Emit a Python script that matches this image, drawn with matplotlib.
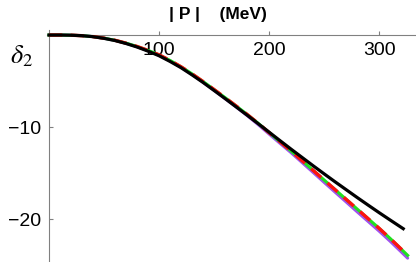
import matplotlib
matplotlib.use("Agg")
import matplotlib.pyplot as plt

plt.rcParams['font.family'] = ['Liberation Sans', 'DejaVu Sans']
plt.rcParams['mathtext.fontset'] = 'stix'

# |P| in MeV
p_full = [0, 10, 20, 30, 40, 50, 60, 70, 80, 90, 100, 110, 120, 130, 140, 150, 160,
          170, 180, 190, 200, 210, 220, 230, 240, 250, 260, 270, 280, 290, 300, 310, 322]
delta_full = [0, 0.0, -0.02, -0.07, -0.18, -0.36, -0.6, -0.92, -1.3, -1.75, -2.25,
              -2.87, -3.55, -4.33, -5.15, -6.02, -6.9, -7.8, -8.7, -9.62, -10.55,
              -11.48, -12.4, -13.3, -14.2, -15.08, -15.95, -16.8, -17.65, -18.48,
              -19.3, -20.1, -21.05]

p_app = [0, 10, 20, 30, 40, 50, 60, 70, 80, 90, 100, 110, 120, 130, 140, 150, 160,
         170, 180, 190, 200, 210, 220, 230, 240, 250, 260, 270, 280, 290, 300, 310,
         320, 326]
delta_red = [0, 0.0, -0.02, -0.07, -0.17, -0.34, -0.57, -0.88, -1.24, -1.67, -2.15,
             -2.76, -3.45, -4.22, -5.05, -5.92, -6.8, -7.7, -8.62, -9.58, -10.6,
             -11.6, -12.6, -13.65, -14.7, -15.75, -16.8, -17.85, -18.9, -19.95,
             -21.0, -22.1, -23.25, -23.95]
delta_green = [0, 0.0, -0.02, -0.07, -0.17, -0.34, -0.57, -0.88, -1.24, -1.67, -2.15,
               -2.76, -3.45, -4.22, -5.05, -5.92, -6.8, -7.7, -8.62, -9.58, -10.6,
               -11.6, -12.6, -13.65, -14.7, -15.75, -16.8, -17.85, -18.9, -19.95,
               -21.0, -22.1, -23.25, -23.95]
delta_purple = [0, 0.0, -0.02, -0.07, -0.17, -0.35, -0.58, -0.9, -1.27, -1.7, -2.19,
                -2.8, -3.5, -4.28, -5.12, -6.0, -6.9, -7.8, -8.74, -9.72, -10.75,
                -11.77, -12.78, -13.85, -14.92, -16.0, -17.07, -18.13, -19.2, -20.25,
                -21.3, -22.4, -23.55, -24.25]

fig = plt.figure(figsize=(4.16, 2.62), dpi=100)
W, H = 416, 262
xmin, xmax = -2, 333.6
ymin, ymax = -24.67, 0.5
left = 49 - 2 * 1.1
ax = fig.add_axes([left / W, 0, (416 - left) / W, (ymax - ymin) * 9.2 / H])
ax.set_xlim(xmin, xmax)
ax.set_ylim(ymin, ymax)

ax.plot(p_app, delta_purple, color='#a050f0', lw=2.2, solid_capstyle='round', zorder=2)
ax.plot(p_app, delta_green, color='#20e020', lw=2.2, zorder=3)
ax.plot(p_app, delta_red, color='#ff1010', lw=2.4, dashes=(4, 2.5), zorder=4)
ax.plot(p_full, delta_full, color='black', lw=2.3, zorder=5, clip_on=False)

for s in ['top', 'right']:
    ax.spines[s].set_visible(False)
ax.spines['bottom'].set_position(('data', 0))
ax.spines['left'].set_position(('data', 0))
for s in ['bottom', 'left']:
    ax.spines[s].set_color('#808080')
    ax.spines[s].set_linewidth(0.8)
    ax.spines[s].set_zorder(1)

ax.set_xticks([100, 200, 300])
ax.set_yticks([-10, -20])
ax.set_yticklabels(['\u221210', '\u221220'])
ax.tick_params(axis='x', direction='in', length=3, width=0.8, color='#808080',
               labelsize=14, pad=5)
ax.tick_params(axis='y', direction='in', length=3, width=0.8, color='#808080',
               labelsize=14, pad=6)

fig.text(218 / W, 1 - 14 / H, '| P |    (MeV)', ha='center', va='center',
         fontsize=12.5, fontweight='bold')
fig.text(21 / W, 1 - 56 / H, r'$\delta_2$', ha='center', va='center', fontsize=19)

fig.savefig('out.png', dpi=100)
